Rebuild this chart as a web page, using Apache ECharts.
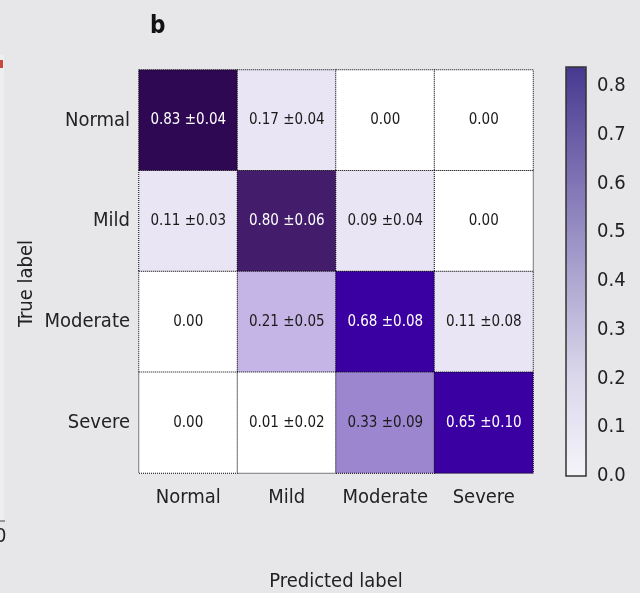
<!DOCTYPE html>
<html>
<head>
<meta charset="utf-8">
<script src="https://cdn.jsdelivr.net/npm/echarts@6/dist/echarts.min.js"></script>
<style>
html,body{margin:0;padding:0;background:#e7e7e9;}
#chart{width:640px;height:593px;}
</style>
</head>
<body>
<div id="chart"></div>
<script>
// ---- data ----
const trueLabels = ['Normal', 'Mild', 'Moderate', 'Severe'];
const predictedLabels = ['Normal', 'Mild', 'Moderate', 'Severe'];
const meanValues = [
  [0.83, 0.17, 0.00, 0.00],
  [0.11, 0.80, 0.09, 0.00],
  [0.00, 0.21, 0.68, 0.11],
  [0.00, 0.01, 0.33, 0.65]
];
const stdValues = [
  [0.04, 0.04, null, null],
  [0.03, 0.06, 0.04, null],
  [null, 0.05, 0.08, 0.08],
  [null, 0.02, 0.09, 0.10]
];
const colorbarMin = 0;
const colorbarMax = 0.839;
const colorbarStep = 0.1;
const panelLetter = 'b';
const xAxisTitle = 'Predicted label';
const yAxisTitle = 'True label';

// ---- build ----
const FONT = "'DejaVu Sans Condensed', 'Liberation Sans Narrow', 'Roboto', sans-serif";
const cells = [];
for (let r = 0; r < trueLabels.length; r++) {
  for (let c = 0; c < predictedLabels.length; c++) {
    const v = meanValues[r][c];
    cells.push({
      value: [c, r, v, stdValues[r][c]],
      label: { color: v > 0.5 ? '#ffffff' : '#1a1a1a' }
    });
  }
}

const chart = echarts.init(document.getElementById('chart'), null, { renderer: 'canvas' });
chart.setOption({
  backgroundColor: '#e7e7e9',
  animation: false,
  title: {
    text: panelLetter,
    left: 145, top: 10,
    textStyle: { fontFamily: FONT, fontWeight: 'bold', fontSize: 24, color: '#111' }
  },
  grid: [
    { left: 139, right: 107, top: 70, bottom: 120, outerBoundsMode: 'none', containLabel: false },
    { left: 566, top: 67, width: 20, height: 409, outerBoundsMode: 'none', containLabel: false }
  ],
  xAxis: [
    {
      type: 'category', data: predictedLabels, gridIndex: 0,
      axisLine: { show: false }, axisTick: { show: false }, splitLine: { show: false },
      axisLabel: { fontFamily: FONT, fontSize: 20, color: '#222', margin: 15, interval: 0 },
      name: xAxisTitle, nameLocation: 'middle', nameGap: 99, nameMoveOverlap: false,
      nameTextStyle: { fontFamily: FONT, fontSize: 20, color: '#222' }
    },
    { type: 'value', gridIndex: 1, show: false }
  ],
  yAxis: [
    {
      type: 'category', data: trueLabels, inverse: true, gridIndex: 0,
      axisLine: { show: false }, axisTick: { show: false }, splitLine: { show: false },
      axisLabel: { fontFamily: FONT, fontSize: 20, color: '#222', margin: 9, interval: 0, padding: [8, 0, 0, 0] },
      name: yAxisTitle, nameLocation: 'middle', nameGap: 102, nameRotate: 90, nameMoveOverlap: false,
      nameTextStyle: { fontFamily: FONT, fontSize: 20, color: '#222', padding: [0, 24, 0, 0] }
    },
    {
      type: 'value', gridIndex: 1, position: 'right',
      min: colorbarMin, max: colorbarMax, interval: colorbarStep,
      axisLine: { show: false }, axisTick: { show: false }, splitLine: { show: false },
      axisLabel: {
        fontFamily: FONT, fontSize: 20, color: '#222', margin: 11,
        showMaxLabel: false,
        formatter: v => v.toFixed(1)
      }
    }
  ],
  visualMap: [
    {
      type: 'piecewise', show: false, seriesIndex: 0, dimension: 2,
      pieces: [
        { lt: 0.05, color: '#ffffff' },
        { gte: 0.05, lt: 0.19, color: '#e9e5f4' },
        { gte: 0.19, lt: 0.27, color: '#c5b5e6' },
        { gte: 0.27, lt: 0.5, color: '#9d86d0' },
        { gte: 0.5, lt: 0.75, color: '#3a00a2' },
        { gte: 0.75, lt: 0.815, color: '#431c6b' },
        { gte: 0.815, color: '#2e0852' }
      ]
    },
    {
      type: 'continuous', show: true, seriesIndex: 1,
      min: colorbarMin, max: colorbarMax,
      orient: 'vertical', left: 566, top: 67, padding: 0,
      itemWidth: 20, itemHeight: 409,
      calculable: false, text: null, showLabel: false,
      inRange: { color: ['#f5f4fa', '#d9d6ea', '#aaa3cf', '#7a6db1', '#473990'] }
    }
  ],
  graphic: [
    { type: 'rect', z: 100, shape: { x: 566, y: 67, width: 20, height: 409 },
      style: { fill: 'none', stroke: '#333', lineWidth: 1.5 } },
    { type: 'rect', z: 1, shape: { x: 0, y: 55, width: 4, height: 466 }, style: { fill: '#eeeeef' } },
    { type: 'rect', z: 1, shape: { x: 0, y: 60, width: 3, height: 8 }, style: { fill: '#c9473a' } },
    { type: 'line', z: 1, shape: { x1: 0, y1: 521, x2: 5, y2: 521 }, style: { stroke: '#444', lineWidth: 1 } },
    { type: 'text', z: 1, x: -5, y: 527, style: { text: '0', fontFamily: FONT, fontSize: 20, fill: '#222' } }
  ],
  series: [
    {
      type: 'heatmap', xAxisIndex: 0, yAxisIndex: 0,
      data: cells,
      itemStyle: { borderColor: '#000', borderWidth: 1, borderType: 'dotted' },
      label: {
        show: true, fontFamily: FONT, fontSize: 15,
        formatter: p => {
          const m = p.value[2].toFixed(2);
          const s = p.value[3];
          return s == null ? m : m + ' \u00b1' + s.toFixed(2);
        }
      },
      emphasis: { disabled: true }
    },
    { type: 'scatter', xAxisIndex: 1, yAxisIndex: 1, data: [] }
  ]
});
</script>
</body>
</html>
